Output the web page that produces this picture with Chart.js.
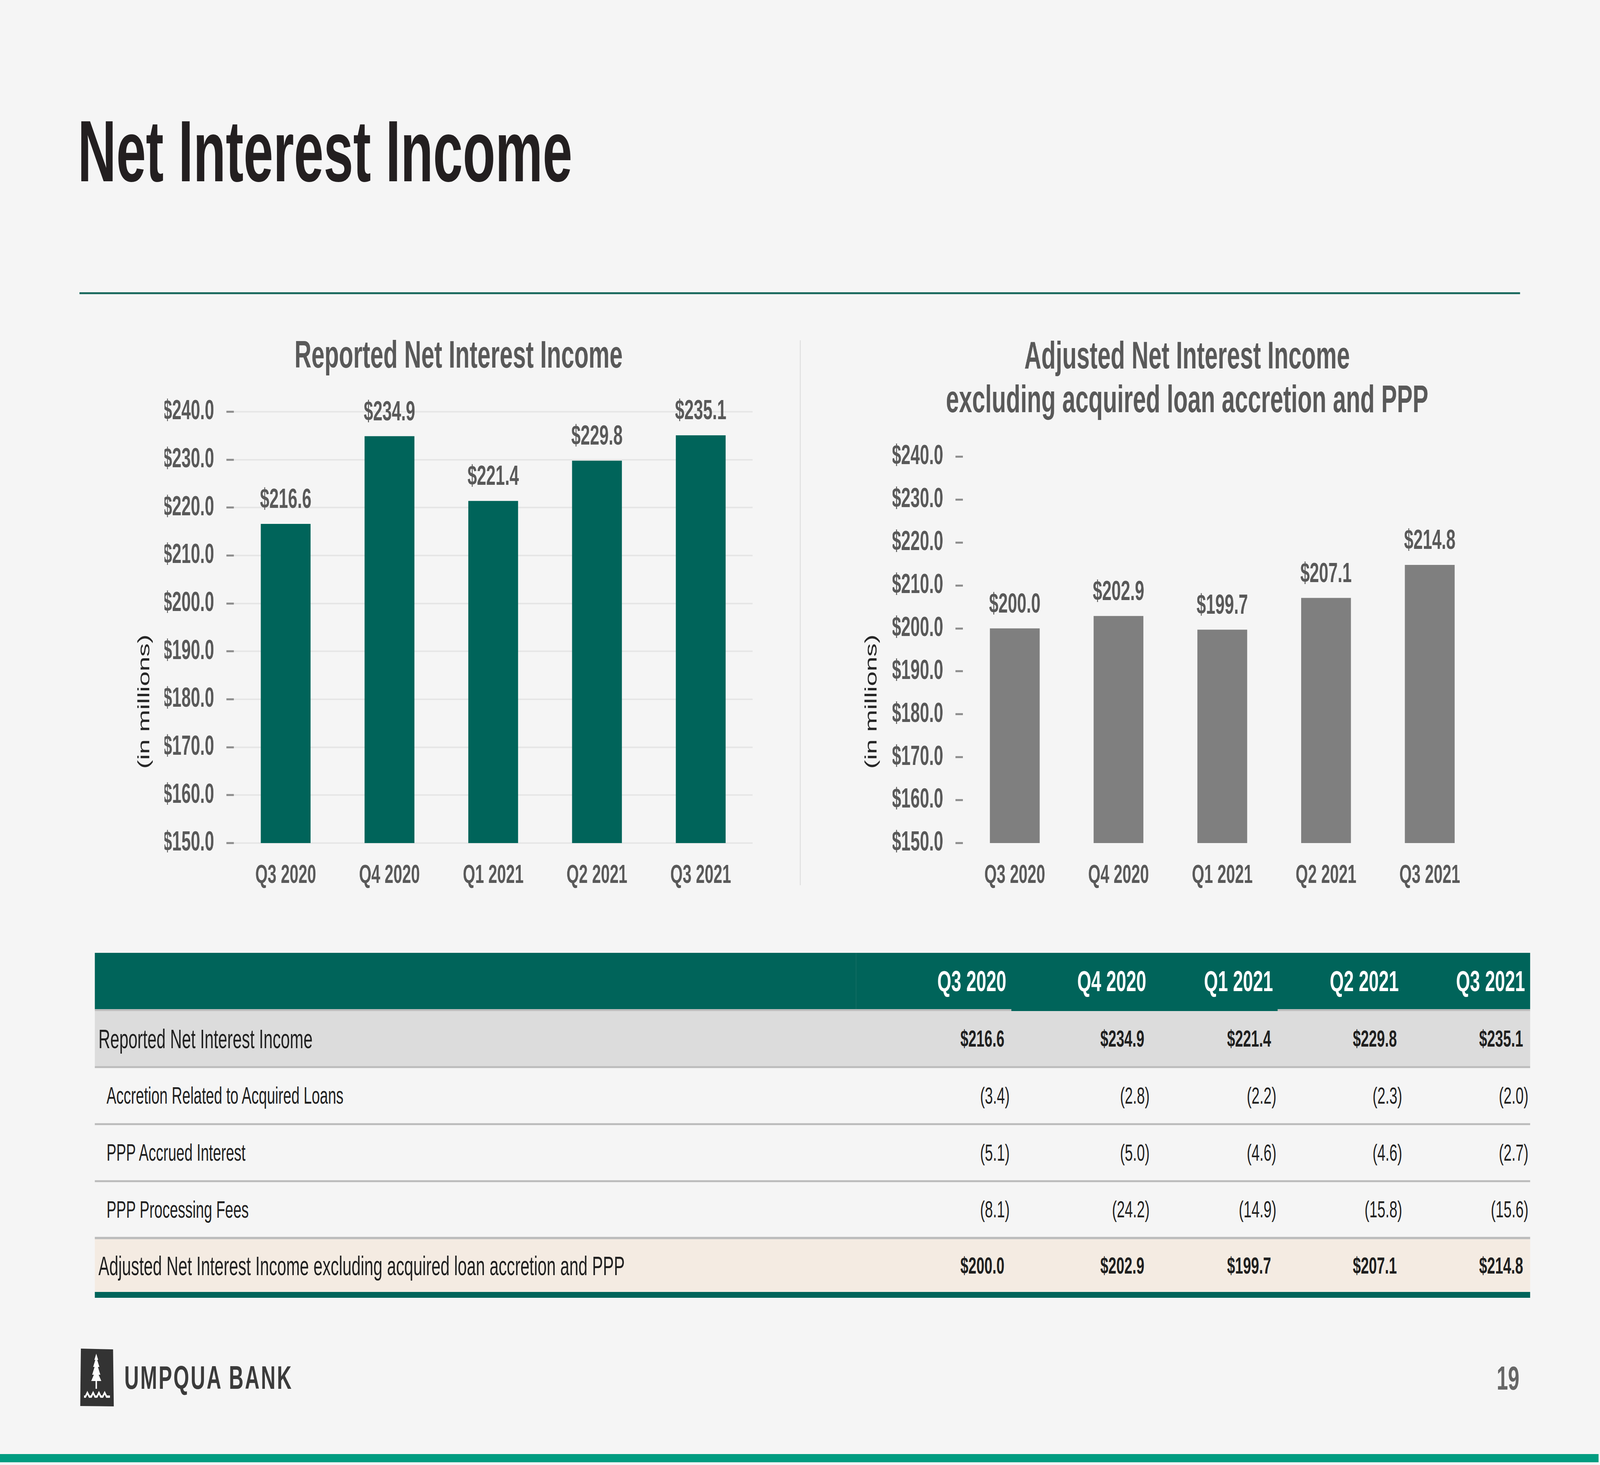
<!DOCTYPE html>
<html>
<head>
<meta charset="utf-8">
<script src="https://cdn.jsdelivr.net/npm/chart.js@4.4.1/dist/chart.umd.min.js"></script>
<style>
html,body{margin:0;padding:0;background:#f5f5f5;overflow:hidden;}
body{width:100vw;height:100vh;position:relative;font-family:"Liberation Sans",Arial,sans-serif;}
#stage{position:absolute;left:0;top:0;width:6665px;height:3750px;background:#f5f5f5;transform-origin:0 0;overflow:hidden;}
.abs{position:absolute;}
.cell{position:absolute;display:flex;align-items:center;white-space:nowrap;line-height:1;}
</style>
</head>
<body>
<div id="stage">

<div class="abs" style="left:324px;top:276px;font-size:222px;line-height:222px;font-weight:bold;color:#231f20;white-space:nowrap;">Net Interest Income</div>
<div class="abs" style="left:331px;top:748px;width:6001px;height:5px;background:#1d6b60;"></div>
<div class="abs" style="left:3332px;top:871px;width:3px;height:1395px;background:#d9d9d9;"></div>

<div class="abs" style="left:560px;top:850px;width:2700px;height:1438px;"><canvas id="leftChart"></canvas></div>
<div class="abs" style="left:3589px;top:850px;width:2712px;height:1438px;"><canvas id="rightChart"></canvas></div>

<div id="table"></div>

<svg class="abs" style="left:334px;top:3451px" width="142" height="150" viewBox="0 0 142 150">
  <path d="M3 1 L137 3 L140 149 L0 148 Z" fill="#333333"/>
  <polygon fill="#ffffff" points="67,14 75,30 71,30 80,48 74,48 84,68 77,68 88,84 70,84 70,104 64,104 64,84 46,84 57,68 50,68 60,48 54,48 63,30 59,30"/>
  <polyline fill="none" stroke="#ffffff" stroke-width="6" stroke-linejoin="miter" points="16,124 22,124 30,114 38,124 46,124 54,114 62,124 70,124 78,114 86,124 94,124 102,114 110,124 124,124"/>
</svg>
<div class="abs" style="left:518px;top:3484px;font-size:84px;line-height:84px;font-weight:bold;letter-spacing:6px;color:#3b3b3b;white-space:nowrap;">UMPQUA BANK</div>
<div class="abs" style="left:6100px;width:229px;text-align:right;top:3485px;font-size:85px;line-height:85px;font-weight:bold;color:#666666;">19</div>
<div class="abs" style="left:0;top:3722px;width:6659px;height:21px;background:#009c80;"></div>

</div>
<script>
// ---------------- map the 6665x3750 slide onto the whole viewport ----------------
(function () {
  const sx = window.innerWidth / 6665, sy = window.innerHeight / 3750;
  document.getElementById('stage').style.transform = 'scale(' + sx + ',' + sy + ')';
})();

// ---------------- data ----------------
const categories = ['Q3 2020', 'Q4 2020', 'Q1 2021', 'Q2 2021', 'Q3 2021'];
const reportedNII = [216.6, 234.9, 221.4, 229.8, 235.1];
const adjustedNII = [200.0, 202.9, 199.7, 207.1, 214.8];
const accretionAcquiredLoans = [-3.4, -2.8, -2.2, -2.3, -2.0];
const pppAccruedInterest = [-5.1, -5.0, -4.6, -4.6, -2.7];
const pppProcessingFees = [-8.1, -24.2, -14.9, -15.8, -15.6];
const yTickValues = [150, 160, 170, 180, 190, 200, 210, 220, 230, 240];
const leftTitle = 'Reported Net Interest Income';
const rightTitle = ['Adjusted Net Interest Income', 'excluding acquired loan accretion and PPP'];
const axisTitle = '(in millions)';
const rowLabels = ['Reported Net Interest Income', 'Accretion Related to Acquired Loans', 'PPP Accrued Interest', 'PPP Processing Fees', 'Adjusted Net Interest Income excluding acquired loan accretion and PPP'];

// ---------------- styling ----------------
const SANS = '"Liberation Sans", Arial, sans-serif';
const NARROW = '"Liberation Sans Narrow", "Arial Narrow", "Liberation Sans", Arial, sans-serif';
const GREY_TEXT = '#595959';

const fmtMoney = v => '$' + Number(v).toFixed(1);
const fmtParen = v => v < 0 ? '(' + Math.abs(v).toFixed(1) + ')' : v.toFixed(1);

const valueLabels = {
  id: 'valueLabels',
  afterDatasetsDraw(chart, args, opts) {
    const ctx = chart.ctx;
    const meta = chart.getDatasetMeta(0);
    const vals = chart.data.datasets[0].data;
    ctx.save();
    ctx.font = 'bold ' + opts.size + 'px ' + NARROW;
    ctx.fillStyle = opts.color;
    ctx.textAlign = 'center';
    ctx.textBaseline = 'middle';
    meta.data.forEach((bar, i) => ctx.fillText(fmtMoney(vals[i]), bar.x, bar.y - opts.offset));
    ctx.restore();
  }
};

const axisNote = {
  id: 'axisNote',
  afterDraw(chart, args, opts) {
    const ctx = chart.ctx;
    ctx.save();
    ctx.translate(opts.x, chart.chartArea.bottom - opts.fromBottom);
    ctx.rotate(-Math.PI / 2);
    ctx.font = opts.size + 'px ' + SANS;
    ctx.fillStyle = opts.color;
    ctx.textAlign = 'center';
    ctx.textBaseline = 'middle';
    ctx.fillText(opts.text, 0, 0);
    ctx.restore();
  }
};

function makeChart(id, values, color, title, titlePadTop, titlePadBottom, padLeft, axisWidth, padRight, gridOnArea) {
  return new Chart(document.getElementById(id), {
    type: 'bar',
    data: {
      labels: categories,
      datasets: [{ data: values, backgroundColor: color, borderWidth: 0, barPercentage: 0.48, categoryPercentage: 1 }]
    },
    options: {
      responsive: true,
      maintainAspectRatio: false,
      animation: false,
      devicePixelRatio: 1,
      layout: { padding: { left: padLeft, right: padRight, top: 0, bottom: 0 } },
      plugins: {
        legend: { display: false },
        tooltip: { enabled: false },
        title: {
          display: true, text: title, color: GREY_TEXT,
          font: { family: SANS, size: 98, weight: 'bold', lineHeight: 1.14 },
          padding: { top: titlePadTop, bottom: titlePadBottom }
        },
        valueLabels: { size: 70, color: GREY_TEXT, offset: 60 },
        axisNote: { text: axisTitle, x: 43, fromBottom: 362, size: 68, color: '#262626' }
      },
      scales: {
        x: {
          grid: { display: false, drawTicks: false },
          border: { display: false },
          ticks: { color: GREY_TEXT, font: { family: SANS, size: 66, weight: 'bold' }, padding: 44, maxRotation: 0, autoSkip: false },
          afterFit(s) { s.height = 130; }
        },
        y: {
          min: yTickValues[0], max: yTickValues[yTickValues.length - 1],
          afterBuildTicks(s) { s.ticks = yTickValues.map(v => ({ value: v })); },
          grid: { color: '#e6e6e6', lineWidth: 4, tickColor: '#8c8c8c', tickWidth: 5, tickLength: 31, drawOnChartArea: gridOnArea },
          border: { display: false },
          ticks: { color: GREY_TEXT, font: { family: NARROW, size: 70, weight: 'bold' }, padding: 51, callback: v => fmtMoney(v) },
          afterFit(s) { s.width = axisWidth; }
        }
      }
    },
    plugins: [valueLabels, axisNote]
  });
}

// left: canvas 560..3260, plot 974..3135, title centred on 1910
makeChart('leftChart', reportedNII, '#00645a', leftTitle, 8, 84.3, 125, 289, 125, true);
// right: canvas 3589..6301, plot 4011..6172, title centred on 4945
makeChart('rightChart', adjustedNII, '#7f7f7f', rightTitle, 10, 85.6, 129, 293, 129, false);

// ---------------- table ----------------
const T = document.getElementById('table');
function box(l, t, w, h, bg) {
  const d = document.createElement('div');
  d.className = 'abs';
  d.style.cssText = 'left:' + l + 'px;top:' + t + 'px;width:' + w + 'px;height:' + h + 'px;background:' + bg + ';';
  T.appendChild(d);
  return d;
}
function text(str, l, t, w, h, css, right) {
  const d = document.createElement('div');
  d.className = 'cell';
  d.style.cssText += 'left:' + l + 'px;top:' + t + 'px;width:' + w + 'px;height:' + h + 'px;' + (right ? 'justify-content:flex-end;' : '') + css;
  d.textContent = str;
  T.appendChild(d);
}
const TL = 395, TR = 6374, TW = TR - TL;
const colRight = [4206, 4789, 5317, 5841, 6367];
const HEAD_T = 2439, HEAD_H = 144;
box(TL, HEAD_T, TW, HEAD_H, '#00645a');
box(3565, HEAD_T, 2, HEAD_H, '#1b7268');
box(TL, HEAD_T + HEAD_H, TW, 5, '#bdbdbd');
box(4213, HEAD_T + HEAD_H, 5322 - 4213, 5, '#00645a');
categories.forEach((c, i) => text(c, colRight[i] - 14 - 500, HEAD_T, 500, HEAD_H, 'font-size:75px;font-weight:bold;color:#ffffff;', true));

const tableRows = [
  { values: reportedNII, total: true, bg: '#dcdcdc' },
  { values: accretionAcquiredLoans, total: false, bg: null },
  { values: pppAccruedInterest, total: false, bg: null },
  { values: pppProcessingFees, total: false, bg: null },
  { values: adjustedNII, total: true, bg: '#f4ebe2' }
];
const rowTops = [2588, 2734, 2880, 3026, 3172];
const rowH = [141, 141, 141, 140, 135];
tableRows.forEach((r, ri) => {
  const top = rowTops[ri], h = rowH[ri];
  if (r.bg) box(TL, top, TW, h, r.bg);
  if (ri < tableRows.length - 1) box(TL, top + h, TW, rowTops[ri + 1] - top - h, '#bdbdbd');
  if (r.total) text(rowLabels[ri], 410, top, 3000, h, 'font-size:68px;color:#1f1f1f;', false);
  else text(rowLabels[ri], 444, top, 3000, h, 'font-size:61px;color:#1f1f1f;', false);
  r.values.forEach((v, ci) => {
    if (r.total) text(fmtMoney(v), colRight[ci] - 22 - 500, top, 500, h, 'font-size:60px;font-weight:bold;color:#1f1f1f;font-family:' + NARROW.replace(/"/g, "'") + ';', true);
    else text(fmtParen(v), colRight[ci] - 500, top, 500, h, 'font-size:60px;color:#1f1f1f;', true);
  });
});
box(TL, 3307, TW, 15, '#00645a');
</script>
</body>
</html>
